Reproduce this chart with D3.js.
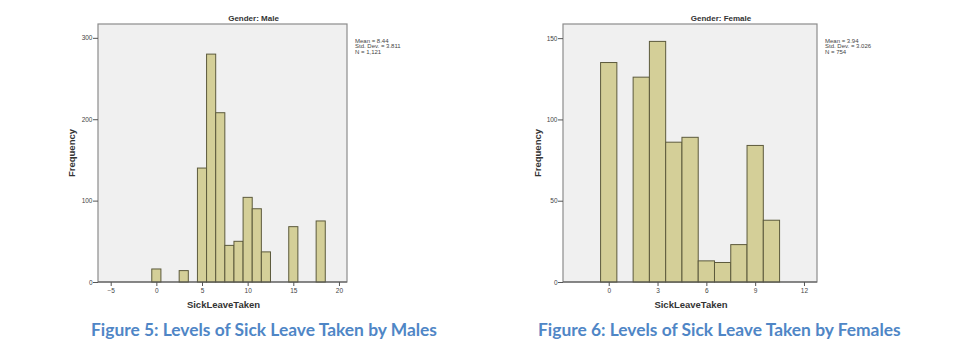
<!DOCTYPE html>
<html><head><meta charset="utf-8">
<script src="https://cdn.jsdelivr.net/npm/d3@7"></script>
<style>body{margin:0;background:#fff}svg{display:block}</style>
</head><body>
<svg id="c" width="970" height="354"></svg>
<script>
// Data
const maleBins = [0, 3, 5, 6, 7, 8, 9, 10, 11, 12, 15, 18];
const maleCounts = [16, 14, 140, 280, 208, 45, 50, 104, 90, 37, 68, 75];
const maleXTicks = [-5, 0, 5, 10, 15, 20];
const maleYTicks = [0, 100, 200, 300];
const maleStats = ["Mean = 8.44", "Std. Dev. = 3.811", "N = 1,121"];

const femaleBins = [0, 2, 3, 4, 5, 6, 7, 8, 9, 10];
const femaleCounts = [135, 126, 148, 86, 89, 13, 12, 23, 84, 38];
const femaleXTicks = [0, 3, 6, 9, 12];
const femaleYTicks = [0, 50, 100, 150];
const femaleStats = ["Mean = 3.94", "Std. Dev. = 3.026", "N = 754"];

const svg = d3.select("#c");
const F = "Liberation Sans, Arial, sans-serif";
const caps = [];

function panel(o) {
  const g = svg.append("g");
  const x = d3.scaleLinear().domain(o.xDomain).range([o.left, o.right]);
  const y = d3.scaleLinear().domain(o.yDomain).range([o.bottom, o.top]);
  g.append("rect").attr("x", o.left).attr("y", o.top)
    .attr("width", o.right - o.left).attr("height", o.bottom - o.top)
    .attr("fill", "#f0f0f0").attr("stroke", "#8c8c8c").attr("stroke-width", 1.2);
  g.selectAll("rect.bar").data(o.bins.map((b, i) => ({b, c: o.counts[i]})))
    .enter().append("rect").attr("class", "bar")
    .attr("x", d => x(d.b - 0.5)).attr("width", d => x(d.b + 0.5) - x(d.b - 0.5))
    .attr("y", d => y(d.c)).attr("height", d => y(0) - y(d.c))
    .attr("fill", "#d4cf98").attr("stroke", "#5c5a3c").attr("stroke-width", 1);
  const xa = g.append("g").attr("transform", `translate(0,${o.bottom})`)
    .call(d3.axisBottom(x).tickValues(o.xTicks).tickSize(4).tickPadding(2).tickFormat(d3.format("d")));
  const ya = g.append("g").attr("transform", `translate(${o.left},0)`)
    .call(d3.axisLeft(y).tickValues(o.yTicks).tickSize(5).tickPadding(0.5).tickFormat(d3.format("d")));
  [xa, ya].forEach(a => {
    a.select(".domain").remove();
    a.selectAll("line").attr("stroke", "#555");
    a.selectAll("text").attr("font-family", F)
      .attr("font-size", 6.5).attr("fill", "#444");
  });
  g.append("line").attr("x1", o.left).attr("x2", o.right).attr("y1", o.bottom).attr("y2", o.bottom)
    .attr("stroke", "#555");
  g.append("text").attr("x", (o.left + o.right) / 2 + 31).attr("y", 20.5)
    .attr("text-anchor", "middle").attr("font-family", F)
    .attr("font-weight", "bold").attr("font-size", 8).attr("fill", "#333").text(o.title);
  g.append("text").attr("transform", `translate(${o.ylabX},153) rotate(-90)`)
    .attr("text-anchor", "middle").attr("font-family", F)
    .attr("font-weight", "bold").attr("font-size", 9.5).attr("fill", "#333").text("Frequency");
  g.append("text").attr("x", (o.left + o.right) / 2 + 1).attr("y", 308)
    .attr("text-anchor", "middle").attr("font-family", F)
    .attr("font-weight", "bold").attr("font-size", 9.5).attr("fill", "#333").text("SickLeaveTaken");
  o.stats.forEach((s, i) => {
    g.append("text").attr("x", o.right + 8).attr("y", 43 + i * 5.3)
      .attr("font-family", F).attr("font-size", 6)
      .attr("fill", "#444").text(s);
  });
  caps.push(g.append("text").attr("x", o.capX).attr("y", 335.5)
    .attr("font-family", "Lato, Open Sans, sans-serif").attr("font-weight", "bold")
    .attr("font-size", 16).attr("fill", "#4f86c6").text(o.caption));
}

panel({left: 98, right: 347, top: 24, bottom: 282, xDomain: [-6.39, 20.88], yDomain: [0, 317],
  bins: maleBins, counts: maleCounts, xTicks: maleXTicks, yTicks: maleYTicks, stats: maleStats,
  title: "Gender: Male", ylabX: 75, caption: "Figure 5: Levels of Sick Leave Taken by Males",
  capX: 91});
panel({left: 563, right: 817, top: 24, bottom: 282, xDomain: [-2.81, 12.8], yDomain: [0, 158.7],
  bins: femaleBins, counts: femaleCounts, xTicks: femaleXTicks, yTicks: femaleYTicks, stats: femaleStats,
  title: "Gender: Female", ylabX: 541, caption: "Figure 6: Levels of Sick Leave Taken by Females",
  capX: 538});
// scale caption font so the female caption spans its reference width
const natural = caps[1].node().getComputedTextLength();
const fs = 16 * 363 / natural;
caps.forEach(c => c.attr("font-size", Math.min(fs, 19)));
</script>
</body></html>
